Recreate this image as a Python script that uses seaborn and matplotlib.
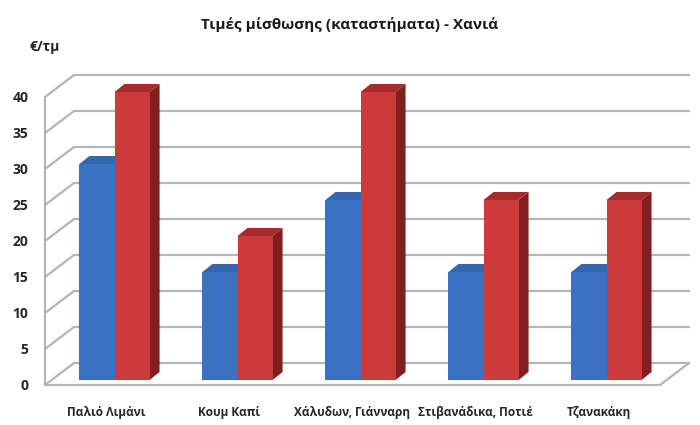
import pandas as pd
import numpy as np
import matplotlib
matplotlib.use('Agg')
import matplotlib.pyplot as plt
from matplotlib.patches import Polygon
from matplotlib.transforms import ScaledTranslation
import seaborn as sns

# data
areas = ['Παλιό Λιμάνι', 'Κουμ Καπί', 'Χάλυδων, Γιάνναρη', 'Στιβανάδικα, Ποτιέ', 'Τζανακάκη']
series_a = [30, 15, 25, 15, 15]
series_b = [40, 20, 40, 25, 25]
y_ticks = [0, 5, 10, 15, 20, 25, 30, 35, 40]

df = pd.DataFrame({'area': areas * 2,
                   'price': series_a + series_b,
                   'series': ['a'] * len(areas) + ['b'] * len(areas)})

sns.set_style('white')
plt.rcParams['font.family'] = ['Open Sans', 'DejaVu Sans']

front = {'a': '#3a71c2', 'b': '#cc3a3a'}
side = {'a': '#27528f', 'b': '#7f1f1f'}
top = {'a': '#3366ad', 'b': '#a82a2a'}
zo = {'a': 3, 'b': 5}

fig = plt.figure(figsize=(7, 4.25), dpi=100)
W, H = 700, 425
left, right, bottom, topy = 45, 660, 385, 97
ax = fig.add_axes([left / W, (H - bottom) / H, (right - left) / W, (bottom - topy) / H])

sns.barplot(data=df, x='area', y='price', hue='series', palette=front,
            width=0.57, ax=ax, legend=False, saturation=1)
ax.set_xlim(-0.5, 4.5)
ax.set_ylim(0, 40)
ax.set_yticks(y_ticks)
for s in ax.spines.values():
    s.set_visible(False)
ax.set_xlabel('')
ax.set_ylabel('')
ax.tick_params(axis='y', length=0, pad=12, labelsize=10)
ax.tick_params(axis='x', length=0, pad=15, labelsize=8.5)
for lab in ax.get_xticklabels() + ax.get_yticklabels():
    lab.set_fontweight('bold')

# back wall offset (pixels)
wx, wy = 29, 22
back = ax.get_yaxis_transform() + ScaledTranslation(wx / 100, wy / 100, fig.dpi_scale_trans)
grid_c = '#b5b5b5'
for t in y_ticks:
    ax.plot([0, 1], [t, t], transform=back, color=grid_c, lw=1.6, zorder=1, clip_on=False)
    # slanted connector on left wall
    p0 = ax.transData.transform((-0.5, t))
    q = ax.transData.inverted().transform([p0, p0 + np.array([wx, wy])])
    ax.plot(q[:, 0], q[:, 1], color=grid_c, lw=1.6, zorder=1, clip_on=False)
# front axis line and floor
ax.plot([-0.5, -0.5], [0, 40], color=grid_c, lw=1.6, clip_on=False, zorder=1)
ax.plot([-0.5, 4.5], [0, 0], color=grid_c, lw=1.6, clip_on=False, zorder=1)
p0 = ax.transData.transform((4.5, 0))
q = ax.transData.inverted().transform([p0, p0 + np.array([wx, wy])])
ax.plot(q[:, 0], q[:, 1], color=grid_c, lw=1.6, zorder=1, clip_on=False)

# 3d look for the bars
shift = ax.transData + ScaledTranslation(8 / 100, 5 / 100, fig.dpi_scale_trans)
inv = ax.transData.inverted()
d = inv.transform([(0, 0), (10, 8)])
ddx, ddy = d[1] - d[0]
keys = ['a'] * len(areas) + ['b'] * len(areas)
for p, k in zip(ax.patches[:len(keys)], keys):
    x0 = p.get_x()
    x1 = x0 + p.get_width()
    h = p.get_height()
    p.set_transform(shift)
    p.set_edgecolor('none')
    p.set_clip_on(False)
    p.set_zorder(zo[k])
    sf = Polygon([(x1, 0), (x1, h), (x1 + ddx, h + ddy), (x1 + ddx, ddy)],
                 closed=True, facecolor=side[k], edgecolor='none',
                 transform=shift, zorder=zo[k] - 1, clip_on=False)
    tp = Polygon([(x0, h), (x1, h), (x1 + ddx, h + ddy), (x0 + ddx, h + ddy)],
                 closed=True, facecolor=top[k], edgecolor='none',
                 transform=shift, zorder=zo[k] - 1, clip_on=False)
    ax.add_patch(sf)
    ax.add_patch(tp)

fig.text(0.5, 1 - 25 / H, 'Τιμές μίσθωσης (καταστήματα) - Χανιά', ha='center', va='center',
         fontsize=11, fontweight='bold', color='#1a1a1a')
fig.text(30 / W, 1 - 47 / H, '€/τμ', ha='left', va='center', fontsize=10, fontweight='bold')

fig.savefig('out.png', dpi=100)
